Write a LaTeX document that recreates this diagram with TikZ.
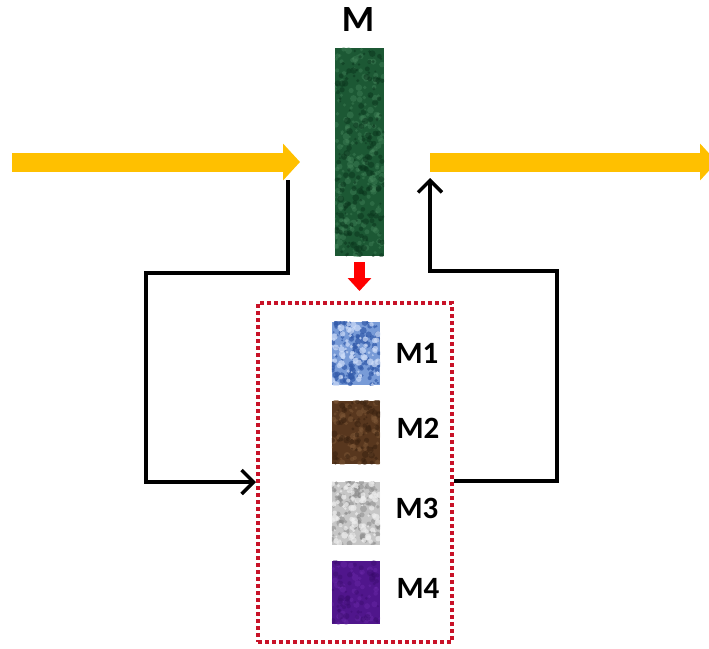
\documentclass[tikz,border=0pt]{standalone}
\usepackage{fontspec}
\setmainfont{Carlito}
\usetikzlibrary{arrows.meta,calc}
\definecolor{gold}{RGB}{255,192,0}
\definecolor{dotred}{RGB}{200,18,40}
\definecolor{mgreen}{RGB}{28,88,52}
\definecolor{mgreenL}{RGB}{70,135,92}
\definecolor{mgreenD}{RGB}{10,52,28}
\definecolor{mblue}{RGB}{120,155,215}
\definecolor{mblueD}{RGB}{50,90,170}
\definecolor{mblueL}{RGB}{205,220,248}
\definecolor{mbrown}{RGB}{88,55,30}
\definecolor{mbrownL}{RGB}{135,95,60}
\definecolor{mbrownD}{RGB}{55,32,15}
\definecolor{mgray}{RGB}{198,198,198}
\definecolor{mgrayD}{RGB}{135,135,135}
\definecolor{mgrayL}{RGB}{238,238,238}
\definecolor{mpurple}{RGB}{80,22,140}
\definecolor{mpurpleL}{RGB}{112,45,175}
\definecolor{mpurpleD}{RGB}{55,10,105}
\newcommand\mottle[5]{%
  \begin{scope}
  \clip (#1.north west) rectangle (#1.south east);
  \foreach \k in {1,...,#3}{
    \fill[#2] ($(#1.north west)+({rnd*#4},{rnd*#5})$) circle[radius={1+2.5*rnd}];
  }
  \end{scope}}
\begin{document}
\begin{tikzpicture}[x=1pt,y=-1pt,
  swatch/.style={rectangle,draw=none,inner sep=0pt,minimum width=48pt,minimum height=63pt},
  barbox/.style={rectangle,draw=none,inner sep=0pt,minimum width=49pt,minimum height=208pt,fill=mgreen},
  lab/.style={font=\bfseries\fontsize{31}{31}\selectfont,inner sep=0pt},
  toplab/.style={font=\bfseries\fontsize{37}{37}\selectfont,inner sep=0pt},
  dotbox/.style={rectangle,draw=dotred,line width=4pt,dash pattern=on 4pt off 3pt,minimum width=194pt,minimum height=339pt,inner sep=0pt},
  yarrow/.style={draw=gold,line width=19pt,-{Triangle[length=17pt,width=36pt,fill=gold]}},
  fb/.style={draw=black,line width=3.5pt,line join=miter,-{Straight Barb[length=12pt,width=24pt,line width=3.5pt]}},
  redarr/.style={draw=red,line width=11pt,-{Triangle[length=13pt,width=23pt,fill=red]}}
]
\useasboundingbox (0,0) rectangle (709,648);
\pgfmathsetseed{7}

% main bar
\node[barbox] (m) at (359.5,152) {};
\mottle{m}{mgreenL,opacity=0.4}{220}{49}{208}
\mottle{m}{mgreenD,opacity=0.5}{180}{49}{208}
\node[toplab] (mlab) at (358,20) {M};

% dotted box and swatches
\node[dotbox] (box) at (355,472.5) {};
\node[swatch,fill=mblue] (s1) at (356,353.5) {};
\mottle{s1}{mblueD,opacity=0.7}{110}{48}{63}
\mottle{s1}{mblueL,opacity=0.7}{80}{48}{63}
\node[swatch,fill=mbrown] (s2) at (356,432.5) {};
\mottle{s2}{mbrownL,opacity=0.4}{70}{48}{63}
\mottle{s2}{mbrownD,opacity=0.5}{70}{48}{63}
\node[swatch,fill=mgray] (s3) at (356,513) {};
\mottle{s3}{mgrayD,opacity=0.5}{100}{48}{63}
\mottle{s3}{mgrayL,opacity=0.7}{80}{48}{63}
\node[swatch,fill=mpurple] (s4) at (356,592.5) {};
\mottle{s4}{mpurpleL,opacity=0.35}{50}{48}{63}
\mottle{s4}{mpurpleD,opacity=0.4}{50}{48}{63}

\node[lab] (l1) at (417,353) {M1};
\node[lab] (l2) at (418,428) {M2};
\node[lab] (l3) at (417,508) {M3};
\node[lab] (l4) at (418,588) {M4};

% yellow flow arrows
\coordinate (inA) at (12,162);
\coordinate (inB) at (300,162);
\coordinate (outA) at (430,162);
\coordinate (outB) at (717,162);
\draw[yarrow] (inA) -- (inB);
\draw[yarrow] (outA) -- (outB);

% red arrow from bar to box
\draw[redarr,shorten <=6pt,shorten >=10pt] (m.south) -- (m.south |- box.north);

% feedback loops
\coordinate (fbL) at (288,180);
\coordinate (fbR) at (430,178);
\draw[fb] (fbL) -- (288,273) -- (146,273) -- (146,482) -- ($(box.west)+(0,9.5)$);
\draw[fb] ($(box.east)+(0,8.5)$) -- (557,481) -- (557,271) -- (430,271) -- (fbR);
\end{tikzpicture}
\end{document}
